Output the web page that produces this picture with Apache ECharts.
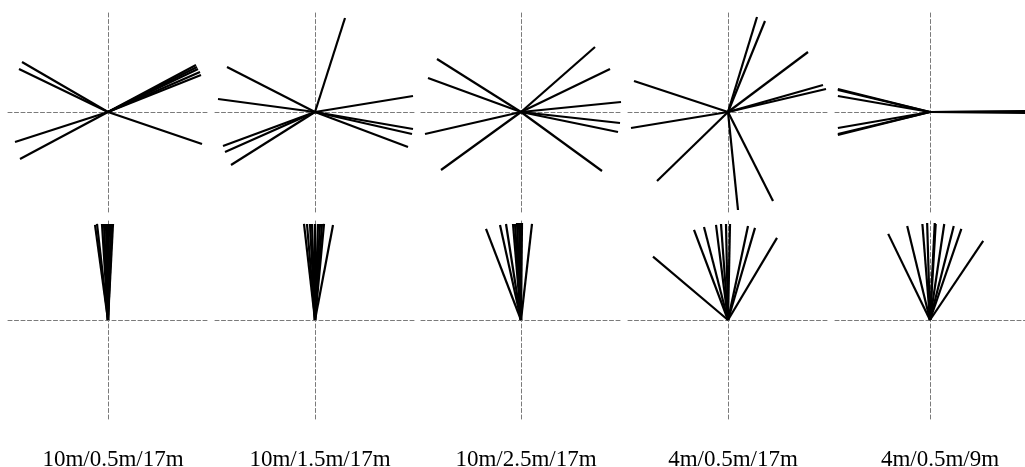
<!DOCTYPE html>
<html>
<head>
<meta charset="utf-8">
<script src="https://cdn.jsdelivr.net/npm/echarts@6/dist/echarts.min.js"></script>
<style>html,body{margin:0;padding:0;background:#fff}#c{width:1025px;height:467px}</style>
</head>
<body>
<div id="c"></div>
<script>
// Column labels
var labels = ['10m/0.5m/17m', '10m/1.5m/17m', '10m/2.5m/17m', '4m/0.5m/17m', '4m/0.5m/9m'];

// Direction vectors [x, y] (unit length), top row
var top1 = [[-0.86,0.50],[-0.89,0.43],[-0.93,-0.30],[-0.88,-0.47],[0.94,-0.32],[0.88,0.47],[0.89,0.45],[0.90,0.43],[0.92,0.40],[0.93,0.37]];
var top2 = [[0.30,0.94],[-0.88,0.45],[-0.97,0.13],[0.98,0.16],[-0.92,-0.34],[-0.90,-0.40],[-0.84,-0.53],[0.98,-0.17],[0.97,-0.22],[0.93,-0.35]];
var top3 = [[0.74,0.65],[0.89,0.43],[1.00,0.10],[0.99,-0.11],[0.97,-0.20],[0.81,-0.59],[-0.84,0.53],[-0.93,0.34],[-0.96,-0.22],[-0.80,-0.58]];
var top4 = [[0.29,0.95],[0.37,0.91],[0.80,0.60],[0.95,0.27],[0.98,0.23],[-0.94,0.31],[-0.97,-0.16],[-0.71,-0.69],[0.10,-0.98],[0.45,-0.89]];
var top5 = [[-0.97,0.23],[-0.97,0.22],[-0.97,0.16],[-0.97,-0.16],[-0.97,-0.22],[-0.97,-0.23],[1.00,0.00],[1.00,0.01],[1.00,-0.01],[1.00,0.005]];

// Direction vectors [x, y], bottom row
var bot1 = [[-0.13,0.96],[-0.11,0.97],[-0.06,0.97],[-0.04,0.97],[-0.02,0.97],[-0.01,0.97],[0.01,0.97],[0.03,0.97],[0.04,0.97],[0.05,0.97]];
var bot2 = [[-0.11,0.97],[-0.08,0.97],[-0.05,0.97],[-0.03,0.97],[0.00,0.97],[0.03,0.97],[0.05,0.97],[0.07,0.97],[0.09,0.97],[0.18,0.96]];
var bot3 = [[-0.35,0.92],[-0.21,0.96],[-0.15,0.97],[-0.08,0.97],[-0.06,0.97],[-0.04,0.98],[-0.02,0.98],[-0.01,0.98],[0.01,0.98],[0.11,0.97]];
var bot4 = [[-0.75,0.64],[-0.34,0.91],[-0.24,0.94],[-0.12,0.96],[-0.07,0.97],[-0.02,0.97],[0.02,0.97],[0.20,0.95],[0.27,0.93],[0.49,0.83]];
var bot5 = [[-0.44,0.87],[-0.24,0.95],[-0.08,0.97],[-0.03,0.98],[0.05,0.98],[0.06,0.97],[0.15,0.97],[0.25,0.95],[0.33,0.92],[0.56,0.80]];

var panels = [top1, top2, top3, top4, top5, bot1, bot2, bot3, bot4, bot5];

var colLeft = [8, 215, 421, 628, 835];
var rowTop = [12, 221];
var size = 200;

var grids = [], xAxes = [], yAxes = [], series = [], titles = [];
var axisLineStyle = {color: '#7a7a7a', width: 1, type: [4, 2.5]};

panels.forEach(function (vecs, i) {
  var col = i % 5, row = Math.floor(i / 5);
  grids.push({left: colLeft[col], top: rowTop[row], width: size, height: (row === 0 ? 200 : 198)});
  xAxes.push({type: 'value', gridIndex: i, min: -1, max: 1,
    axisLine: {show: true, onZero: true, lineStyle: axisLineStyle},
    axisTick: {show: false}, axisLabel: {show: false}, splitLine: {show: false}});
  yAxes.push({type: 'value', gridIndex: i, min: -1, max: 1,
    axisLine: {show: true, onZero: true, lineStyle: axisLineStyle},
    axisTick: {show: false}, axisLabel: {show: false}, splitLine: {show: false}});
  series.push({
    type: 'lines', coordinateSystem: 'cartesian2d', xAxisIndex: i, yAxisIndex: i,
    silent: true, clip: false,
    lineStyle: {color: '#000', width: 2.2, opacity: 1},
    data: vecs.map(function (v) { return {coords: [[0, 0], v]}; })
  });
});

labels.forEach(function (t, c) {
  titles.push({text: t, left: colLeft[c] + size / 2, top: 443, textAlign: 'center',
    textStyle: {fontFamily: 'Liberation Serif', fontSize: 23, fontWeight: 'normal', color: '#000'}});
});

var chart = echarts.init(document.getElementById('c'), null, {renderer: 'canvas'});
chart.setOption({
  animation: false,
  backgroundColor: '#fff',
  title: titles,
  grid: grids,
  xAxis: xAxes,
  yAxis: yAxes,
  series: series
});
</script>
</body>
</html>
